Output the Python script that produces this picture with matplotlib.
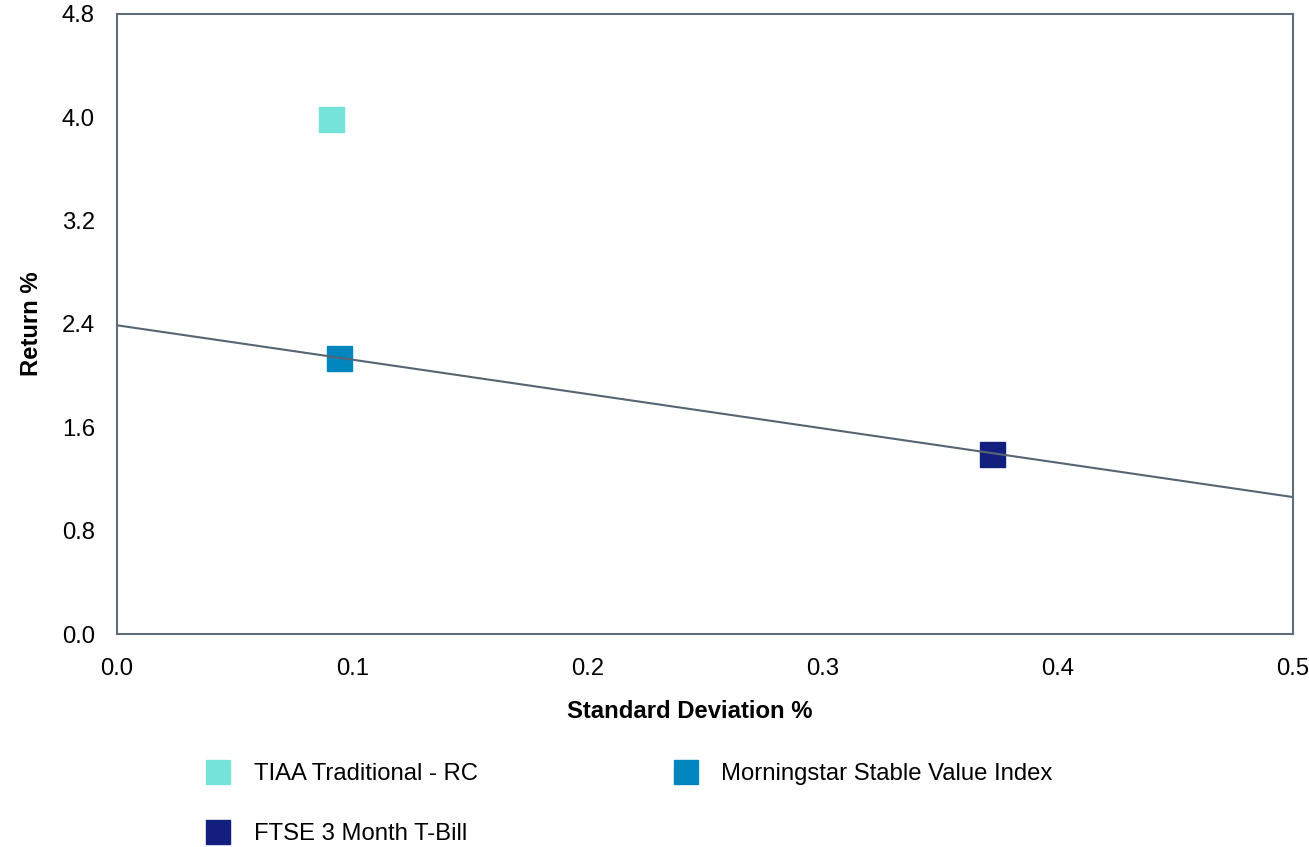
import matplotlib
matplotlib.use("Agg")
import matplotlib.pyplot as plt
from matplotlib.lines import Line2D

plt.rcParams['font.family'] = ['Liberation Sans', 'DejaVu Sans']

# data
names = ["TIAA Traditional - RC", "Morningstar Stable Value Index", "FTSE 3 Month T-Bill"]
std_dev = [0.091, 0.0945, 0.372]
returns = [3.99, 2.14, 1.39]
colors = ["#76e3d9", "#0085be", "#131f7f"]

# trend line endpoints
line_x = [0.0, 0.5]
line_y = [2.39, 1.06]

x_ticks = [0.0, 0.1, 0.2, 0.3, 0.4, 0.5]
y_ticks = [0.0, 0.8, 1.6, 2.4, 3.2, 4.0, 4.8]

axis_col = "#5f6e7d"
fs = 17.2

fig = plt.figure(figsize=(13.09, 8.47), dpi=100)
ax = fig.add_axes([117 / 1309, 1 - 634 / 847, 1176 / 1309, 620 / 847])

for x, y, c in zip(std_dev, returns, colors):
    ax.plot(x, y, marker="s", markersize=18, color=c, linestyle="none", zorder=2)
ax.plot(line_x, line_y, color="#566573", linewidth=1.5, zorder=3)

ax.set_xlim(0, 0.5)
ax.set_ylim(0, 4.8)
ax.set_xticks(x_ticks)
ax.set_yticks(y_ticks)
ax.set_xticklabels(["%.1f" % v for v in x_ticks])
ax.set_yticklabels(["%.1f" % v for v in y_ticks])
# only inner ticks get a visible tick mark
ax.set_xticks(x_ticks[1:-1], minor=True)
ax.set_yticks(y_ticks[1:-1], minor=True)
ax.tick_params(which="major", length=0, labelsize=fs, colors="black")
ax.tick_params(axis="x", which="major", pad=17)
ax.tick_params(axis="y", which="major", pad=16)
ax.tick_params(which="minor", length=10, width=1.5, color="#d4d4d4")

for s in ax.spines.values():
    s.set_color(axis_col)
    s.set_linewidth(1.5)

ax.set_xlabel("Standard Deviation %", fontsize=fs, fontweight="bold")
ax.xaxis.set_label_coords((690 - 117) / 1176, -(711 - 634) / 620, transform=ax.transAxes)
ax.xaxis.label.set_va("center")
ax.set_ylabel("Return %", fontsize=fs, fontweight="bold")
ax.yaxis.set_label_coords(-(117 - 32) / 1176, (634 - 324) / 620, transform=ax.transAxes)
ax.yaxis.label.set_va("center")

handles = [Line2D([], [], marker="s", markersize=17, color=c, linestyle="none")
           for c in colors]
order = [0, 2, 1]
fig.legend([handles[i] for i in order], [names[i] for i in order],
           ncol=2, loc="upper left", bbox_to_anchor=(194 / 1309, 1 - 751 / 847),
           frameon=False, fontsize=fs, handlelength=1.0, handletextpad=1.0,
           columnspacing=8.2, labelspacing=1.6, borderpad=0)

fig.savefig("out.png", dpi=100)
